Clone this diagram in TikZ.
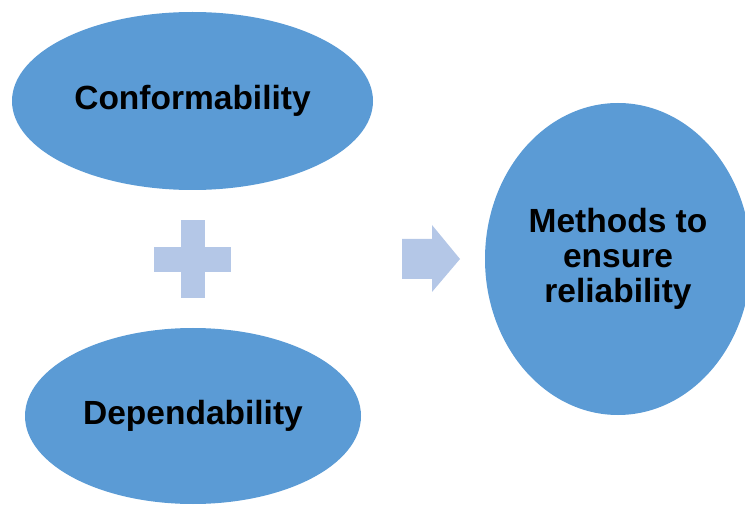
\documentclass[tikz,border=0pt]{standalone}
\usepackage{fontspec}
\setmainfont{Liberation Sans}
\usetikzlibrary{shapes.geometric}
\definecolor{ovalblue}{RGB}{91,155,213}
\definecolor{signblue}{RGB}{180,199,231}

\begin{document}
\begin{tikzpicture}[x=1pt, y=-1pt,
    oval/.style={ellipse, fill=ovalblue, inner sep=0pt, align=center,
        font=\fontsize{33.5}{35}\selectfont\bfseries}]
        \useasboundingbox (0,0) rectangle (745,505);
        \clip (0,0) rectangle (745,505);

        \node[oval, minimum width=361pt, minimum height=178pt] (conf) at (192.5,101) {Conformability};
        \node[oval, minimum width=336pt, minimum height=176pt] (dep) at (193,416) {Dependability};
        \node[oval, minimum width=266pt, minimum height=312pt] (methods) at (618,259) {Methods to\\ensure\\reliability};

        % plus sign
        \fill[signblue] (181,220) rectangle (205,298);
        \fill[signblue] (154,247) rectangle (231,272);

        % block arrow
        \fill[signblue] (402,239) -- (432,239) -- (432,225) -- (460,259)
            -- (432,292) -- (432,279) -- (402,279) -- cycle;
    \end{tikzpicture}
\end{document}
